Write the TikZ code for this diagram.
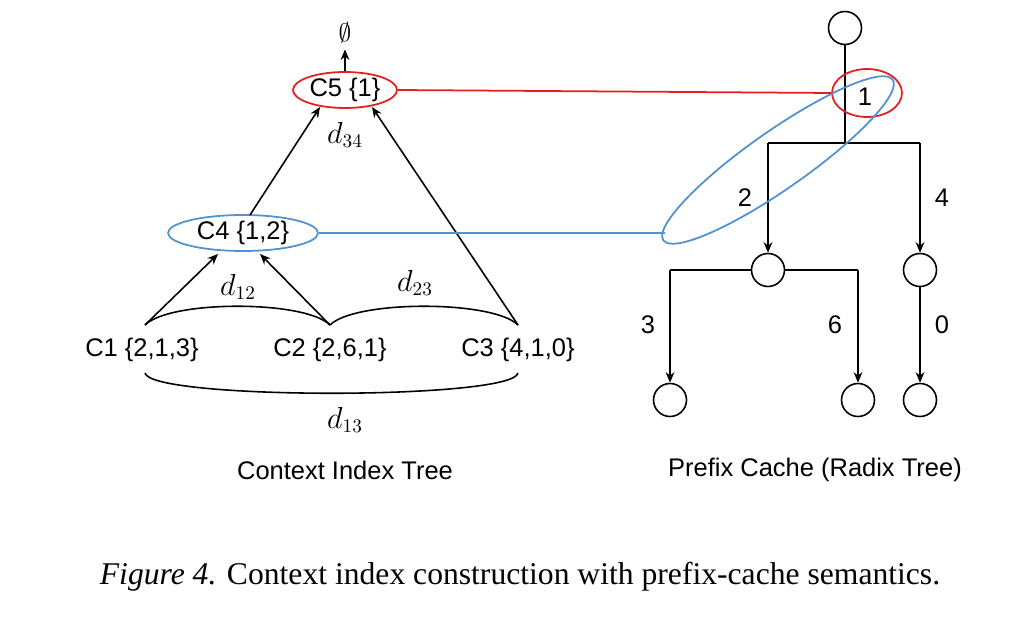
\documentclass[tikz,border=0pt]{standalone}
\usepackage{fontspec}
\setmainfont{Liberation Sans}
\newfontfamily\capfont{Liberation Serif}
\usetikzlibrary{arrows.meta,shapes.geometric}
\definecolor{myred}{RGB}{230,30,30}
\definecolor{myblue}{RGB}{80,145,210}
\begin{document}
\begin{tikzpicture}[x=0.02cm,y=-0.02cm,
  lbl/.style={font=\fontsize{14.5}{16}\selectfont},
  mlbl/.style={font=\fontsize{16}{18}\selectfont},
  arr/.style={-{Stealth[length=6pt,width=5pt]},line width=0.9pt},
  ln/.style={line width=0.9pt},
  cir/.style={circle,draw,line width=0.9pt,minimum size=0.66cm,inner sep=0pt}]
\useasboundingbox (0,0) rectangle (1020,638);
% left tree
\node[lbl] (empty) at (345,33) {$\emptyset$};
\node[ellipse,draw=myred,line width=1pt,minimum width=2.08cm,minimum height=0.72cm,inner sep=0pt,lbl] (c5) at (345,90) {C5 \{1\}};
\node[ellipse,draw=myblue,line width=1pt,minimum width=3.0cm,minimum height=0.72cm,inner sep=0pt,lbl] (c4) at (243,233) {C4 \{1,2\}};
\node[lbl] (c1) at (142,350) {C1 \{2,1,3\}};
\node[lbl] (c2) at (330,350) {C2 \{2,6,1\}};
\node[lbl] (c3) at (518,350) {C3 \{4,1,0\}};
\coordinate (c1t) at (145,325);
\coordinate (c2t) at (330,325);
\coordinate (c3t) at (518,325);
\coordinate (c1b) at (145,373);
\coordinate (c3b) at (518,373);
\draw[arr] (c5.north) -- (empty.south);
\draw[arr] (c1t) -- (218,254);
\draw[arr] (c2t) -- (260,254);
\draw[arr] (250,215) -- (320,107);
\draw[arr] (c3t) -- (372,107);
\draw[ln] (c1t) .. controls (170,300) and (305,300) .. (c2t);
\draw[ln] (c2t) .. controls (355,300) and (493,300) .. (c3t);
\draw[ln] (c1b) .. controls (150,400) and (513,400) .. (c3b);
\node[mlbl] at (345,135) {$d_{34}$};
\node[mlbl] at (238,287) {$d_{12}$};
\node[mlbl] at (415,283) {$d_{23}$};
\node[mlbl] at (345,420) {$d_{13}$};
% right tree
\node[cir] (r0) at (845,28) {};
\node[cir] (a) at (768,270) {};
\node[cir] (b) at (920,270) {};
\node[cir] (aa) at (670,400) {};
\node[cir] (ab) at (858,400) {};
\node[cir] (ba) at (920,400) {};
\draw[ln] (r0.south) -- (845,143);
\draw[ln] (768,143) -- (920,143);
\draw[arr] (768,143) -- (a.north);
\draw[arr] (920,143) -- (b.north);
\draw[ln] (670,270) -- (a.west) (a.east) -- (858,270);
\draw[arr] (670,270) -- (aa.north);
\draw[arr] (858,270) -- (ab.north);
\draw[arr] (b.south) -- (ba.north);
\node[lbl] at (865,97) {1};
\node[lbl] at (745,198) {2};
\node[lbl] at (942,198) {4};
\node[lbl] at (648,325) {3};
\node[lbl] at (835,325) {6};
\node[lbl] at (942,325) {0};
\node[ellipse,draw=myred,line width=1pt,minimum width=1.4cm,minimum height=0.96cm] (hl) at (867,93) {};
\draw[myblue,line width=1pt,rotate around={35:(778,160)}] (778,160) ellipse [x radius=2.8cm,y radius=0.58cm];
\coordinate (blueend) at (665,233);
\draw[myred,line width=1pt] (c5.east) -- (hl.west);
\draw[myblue,line width=1pt] (c4.east) -- (blueend);
% captions
\node[lbl] at (345,470) {Context Index Tree};
\node[lbl] at (815,470) {Prefix Cache (Radix Tree)};
\node[font=\capfont\fontsize{18}{20}\selectfont] at (520,577) {\textit{Figure 4.} Context index construction with prefix-cache semantics.};
\end{tikzpicture}
\end{document}
